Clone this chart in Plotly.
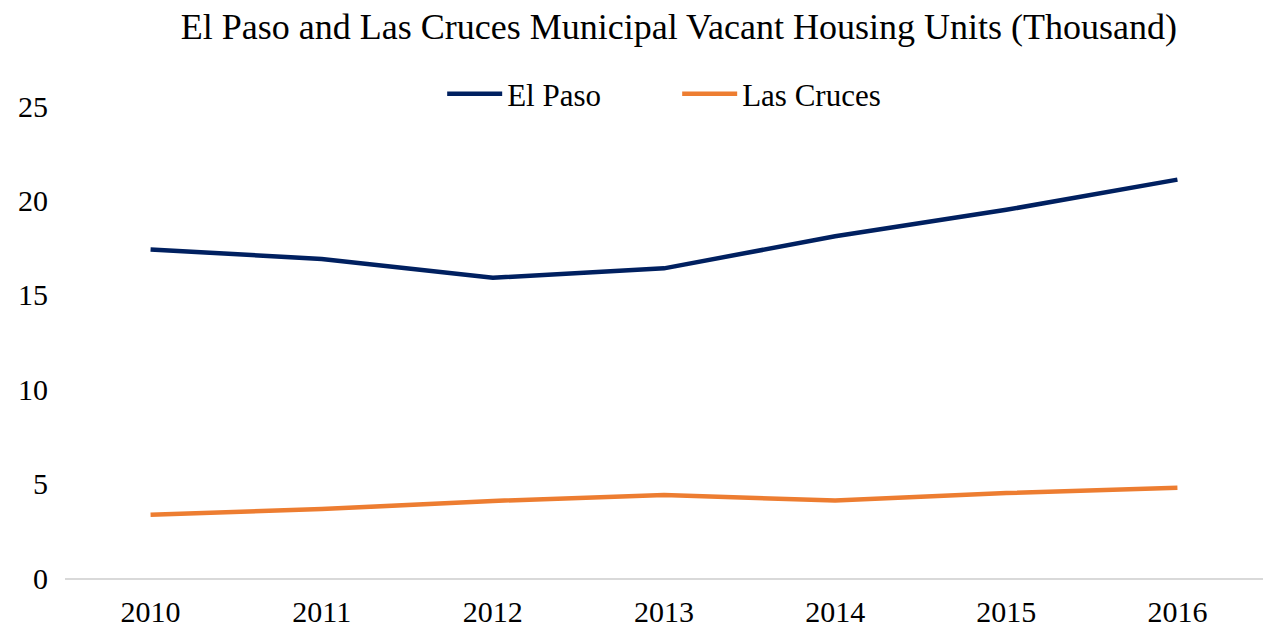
import plotly.graph_objects as go

years = ["2010", "2011", "2012", "2013", "2014", "2015", "2016"]
el_paso = [17.4, 16.9, 15.9, 16.4, 18.1, 19.5, 21.1]
las_cruces = [3.35, 3.65, 4.08, 4.40, 4.10, 4.50, 4.78]

FONT = "Liberation Serif"

fig = go.Figure()
fig.add_trace(go.Scatter(x=years, y=el_paso, mode="lines", name="El Paso",
                         line=dict(color="#002060", width=4.5)))
fig.add_trace(go.Scatter(x=years, y=las_cruces, mode="lines", name="Las Cruces",
                         line=dict(color="#ED7D31", width=4.5)))

fig.update_layout(
    width=1269, height=630,
    paper_bgcolor="white", plot_bgcolor="white",
    margin=dict(l=65, r=6, t=106, b=52, autoexpand=False),
    font=dict(family=FONT, size=30, color="#000000"),
    title=dict(text="El Paso and Las Cruces Municipal Vacant Housing Units (Thousand)",
               x=0.535, xanchor="center", y=0.958, yanchor="middle",
               font=dict(family=FONT, size=36, color="#000000")),
    legend=dict(orientation="h", x=0.511, xanchor="center", y=1.025, yanchor="middle",
                font=dict(family=FONT, size=31), itemwidth=55, entrywidth=165,
                bgcolor="rgba(0,0,0,0)"),
    showlegend=True,
)
fig.update_xaxes(type="category", showgrid=False, showline=True, linecolor="#D9D9D9",
                 linewidth=2, ticks="", ticklabelstandoff=6, range=[-0.5, 6.5],
                 tickfont=dict(family=FONT, size=30))
fig.update_yaxes(range=[0, 25], dtick=5, showgrid=False, zeroline=False, showline=False,
                 ticks="", ticklabelstandoff=16, tickfont=dict(family=FONT, size=30))

fig.write_html("out.html", config={"displayModeBar": False},
               post_script="document.body.style.margin='0';document.body.style.overflow='hidden';")
